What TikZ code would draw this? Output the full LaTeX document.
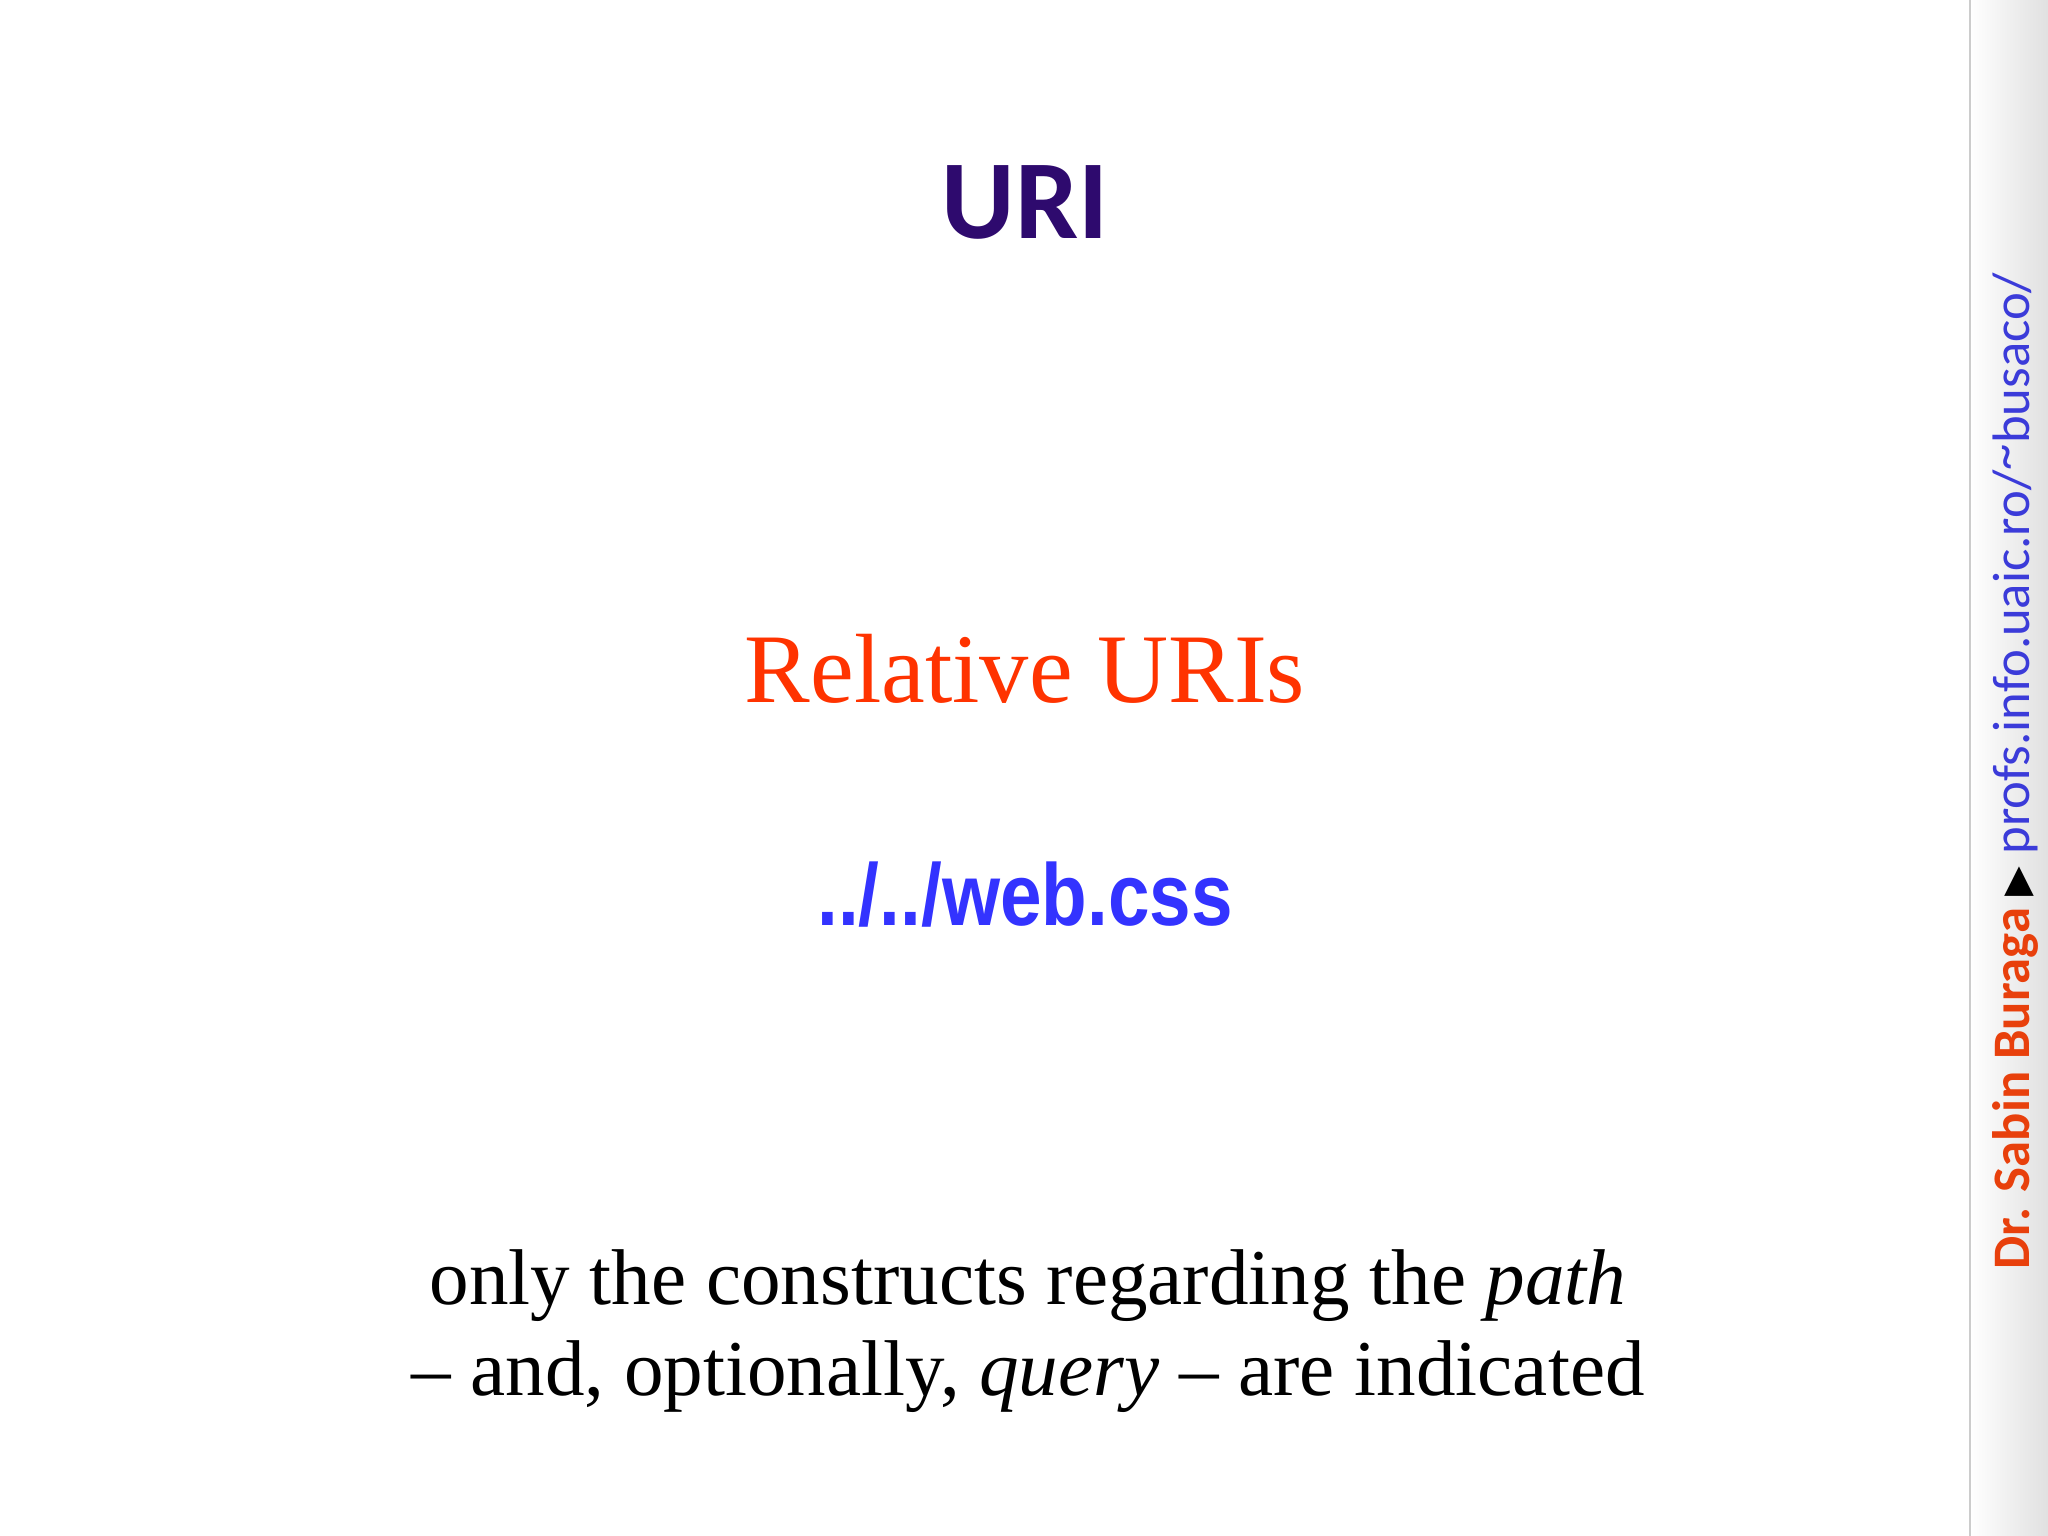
\documentclass[tikz,border=0pt]{standalone}
\usepackage{fontspec}
\setmainfont{Liberation Serif}
\newfontfamily\carl{Carlito}
\newfontfamily\arl{Liberation Sans}
\newfontfamily\dvs{DejaVu Sans}
\definecolor{titlec}{HTML}{2E0A6E}
\definecolor{orangec}{HTML}{FF3300}
\definecolor{bluec}{HTML}{3333FF}
\definecolor{sideblue}{HTML}{3B3BD9}
\definecolor{sidered}{HTML}{E8400C}
\begin{document}
\begin{tikzpicture}
\useasboundingbox (0,0) rectangle (20.48,15.36);
\fill[white] (0,0) rectangle (20.48,15.36);
\shade[left color=white, right color=black!12] (19.70,0) rectangle (20.48,15.36);
\draw[black!20, line width=0.6pt] (19.70,0) -- (19.70,15.36);
\node[text=titlec, font=\carl\bfseries\fontsize{32}{38}\selectfont] (title) at (10.25,13.34) {URI};
\node[text=orangec, font=\fontsize{28}{34}\selectfont] (rel) at (10.25,8.67) {Relative URIs};
\node[text=bluec, font=\arl\bfseries\fontsize{25}{30}\selectfont, xscale=0.85] (ex) at (10.25,6.41) {../../web.css};
\node[align=center, font=\fontsize{22.5}{27}\selectfont] (desc) at (10.28,2.05) {only the constructs regarding the \textit{path}\\[-1pt]– and, optionally, \textit{query} – are indicated};
\node[rotate=90, font=\carl\fontsize{15}{18}\selectfont] (side) at (20.15,7.65)
 {\textcolor{sidered}{\bfseries Dr. Sabin Buraga} {\dvs\fontsize{11}{13}\selectfont ▶} \textcolor{sideblue}{profs.info.uaic.ro/\raisebox{0.3ex}{\char`\~}busaco/}};
\end{tikzpicture}
\end{document}
